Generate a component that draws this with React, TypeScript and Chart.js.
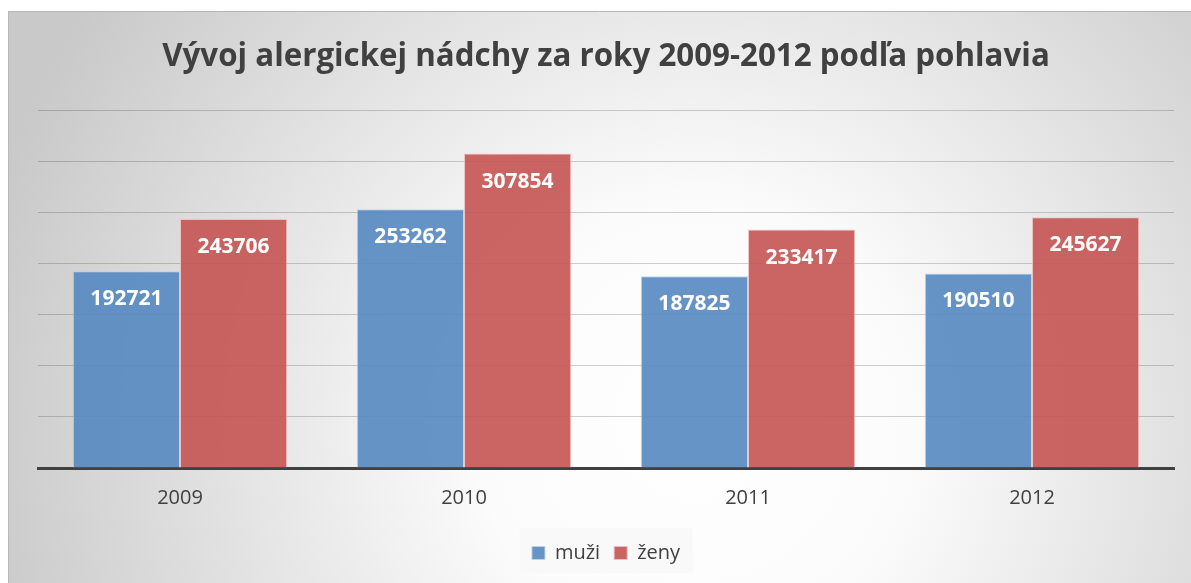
import React, { useEffect, useRef } from "react";
import { Chart, registerables } from "chart.js";

Chart.register(...registerables);

const TITLE = "Vývoj alergickej nádchy za roky 2009-2012 podľa pohlavia";
const categories = ["2009", "2010", "2011", "2012"];
const seriesNames = ["muži", "ženy"];
const muzi = [192721, 253262, 187825, 190510];
const zeny = [243706, 307854, 233417, 245627];
const yMax = 350000;
const yStep = 50000;

const FONT = "'Open Sans', 'Noto Sans', sans-serif";

const bgPlugin = {
  id: "bgPlugin",
  beforeDraw(chart: any) {
    const { ctx, width, height } = chart;
    ctx.save();
    const cx = width * 0.58;
    const cy = height * 0.72;
    const g = ctx.createRadialGradient(cx, cy, 0, cx, cy, width * 0.62);
    g.addColorStop(0, "#ffffff");
    g.addColorStop(0.3, "#fbfbfb");
    g.addColorStop(1, "#c9c9c9");
    ctx.fillStyle = g;
    ctx.fillRect(0, 0, width, height);
    ctx.strokeStyle = "#b8b8b8";
    ctx.lineWidth = 1;
    ctx.beginPath();
    ctx.moveTo(0, 0.5);
    ctx.lineTo(width, 0.5);
    ctx.moveTo(0.5, 0);
    ctx.lineTo(0.5, height);
    ctx.stroke();
    const lg = chart.legend;
    if (lg) {
      ctx.fillStyle = "rgba(248,248,248,0.9)";
      ctx.fillRect(lg.left + (lg.width - 173) / 2, lg.top + lg.height / 2 - 23, 173, 45);
    }
    ctx.restore();
  },
};

const labelPlugin = {
  id: "labelPlugin",
  afterDatasetsDraw(chart: any) {
    const { ctx } = chart;
    ctx.save();
    ctx.fillStyle = "#ffffff";
    ctx.font = `bold 21px ${FONT}`;
    ctx.textAlign = "center";
    ctx.textBaseline = "middle";
    chart.data.datasets.forEach((ds: any, di: number) => {
      const meta = chart.getDatasetMeta(di);
      meta.data.forEach((bar: any, i: number) => {
        ctx.fillText(String(ds.data[i]), bar.x, bar.y + 28);
      });
    });
    ctx.restore();
  },
};

export default function App() {
  const ref = useRef<HTMLCanvasElement | null>(null);
  useEffect(() => {
    if (!ref.current) return;
    const chart = new Chart(ref.current, {
      type: "bar",
      data: {
        labels: categories,
        datasets: [
          {
            label: seriesNames[0],
            data: muzi,
            backgroundColor: "rgba(86,136,193,0.9)",
            borderColor: "rgba(190,210,235,0.9)",
            borderWidth: 1,
          },
          {
            label: seriesNames[1],
            data: zeny,
            backgroundColor: "rgba(196,84,83,0.9)",
            borderColor: "rgba(240,190,190,0.9)",
            borderWidth: 1,
          },
        ],
      },
      options: {
        animation: false,
        responsive: false,
        maintainAspectRatio: false,
        layout: { padding: { left: 30, right: 17, top: 0, bottom: 10 } },
        datasets: { bar: { categoryPercentage: 0.755, barPercentage: 1 } },
        plugins: {
          title: {
            display: true,
            text: TITLE,
            color: "#404040",
            font: { family: FONT, size: 31.3, weight: "bold", lineHeight: 1.2 },
            padding: { top: 27, bottom: 35 },
          },
          legend: {
            display: true,
            position: "bottom",
            labels: {
              color: "#404040",
              font: { family: FONT, size: 20 },
              boxWidth: 13,
              boxHeight: 13,
              padding: 14,
            },
          },
          tooltip: { enabled: false },
        },
        scales: {
          x: {
            grid: { display: false },
            border: { display: true, color: "#404040", width: 3 },
            ticks: { color: "#404040", font: { family: FONT, size: 20 }, padding: 10 },
            afterFit: (s: any) => {
              s.height = 61;
            },
          },
          y: {
            min: 0,
            max: yMax,
            ticks: { display: false, stepSize: yStep },
            border: { display: false },
            grid: { color: "rgba(0,0,0,0.18)", drawTicks: false },
            afterFit: (s: any) => {
              s.width = 0;
            },
          },
        },
      },
      plugins: [bgPlugin, labelPlugin],
    });
    return () => chart.destroy();
  }, []);
  return (
    <div style={{ position: "fixed", left: 8, top: 11, width: 1183, height: 572 }}>
      <canvas ref={ref} width={1183} height={572} style={{ display: "block", width: 1183, height: 572 }} />
    </div>
  );
}
